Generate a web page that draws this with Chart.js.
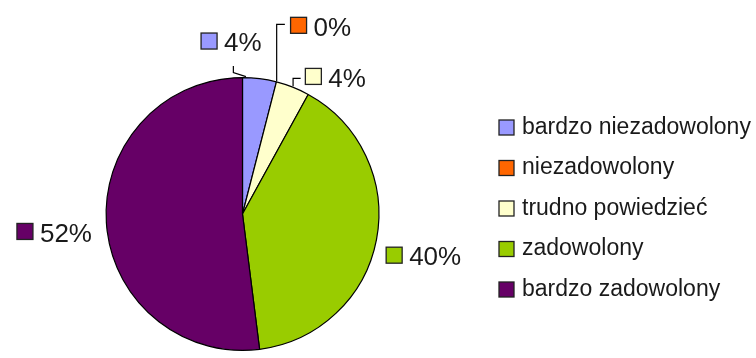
<!DOCTYPE html>
<html lang="pl">
<head>
    <meta charset="UTF-8">
    <title>Zadowolenie</title>
    <script src="https://cdn.jsdelivr.net/npm/chart.js"></script>
    <style>
        body {
            margin: 0;
            background-color: #FFFFFF;
        }
        #wrap {
            width: 756px;
            height: 358px;
        }
    </style>
</head>
<body>
<div id="wrap">
    <canvas id="pieChart" width="756" height="358"></canvas>
</div>
<script>
    // dane
    const kategorie = ['bardzo niezadowolony', 'niezadowolony', 'trudno powiedzieć', 'zadowolony', 'bardzo zadowolony'];
    const procenty = [4, 0, 4, 40, 52];
    const kolory = ['#9999FF', '#FF6600', '#FFFFCC', '#99CC00', '#660066'];

    // przesunięcia etykiet (jak ręcznie poprzesuwane w Excelu)
    const przesuniecia = [[-34, 11], [33, -9], [26, 35], [2, 10], [-6, 9]];
    // linie odniesienia: punkt startu względem środka etykiety, miejsce na łuku, rodzaj łamania
    const linie = [
        { od: [2, 22], ulamek: 0.1, tryb: 'v' },
        { od: [-36, -4], ulamek: 0.5, tryb: 'h' },
        { od: [-35, -1], ulamek: 0.5, tryb: 'h' },
        null,
        null
    ];

    const FONT = '"Liberation Sans", Arial, sans-serif';

    const etykietyPlugin = {
        id: 'etykiety',
        afterDatasetsDraw(chart) {
            const ctx = chart.ctx;
            const meta = chart.getDatasetMeta(0);
            ctx.save();
            meta.data.forEach((arc, i) => {
                const p = arc.getProps(['x', 'y', 'startAngle', 'endAngle', 'outerRadius'], true);
                const mid = (p.startAngle + p.endAngle) / 2;
                const d = p.outerRadius + 46;
                const cx = p.x + Math.cos(mid) * d + przesuniecia[i][0];
                const cy = p.y + Math.sin(mid) * d + przesuniecia[i][1];

                // linia odniesienia
                const l = linie[i];
                if (l) {
                    const a = p.startAngle + (p.endAngle - p.startAngle) * l.ulamek;
                    const ex = p.x + Math.cos(a) * (p.outerRadius + 1);
                    const ey = p.y + Math.sin(a) * (p.outerRadius + 1);
                    const sx = cx + l.od[0];
                    const sy = cy + l.od[1];
                    ctx.beginPath();
                    ctx.strokeStyle = '#000000';
                    ctx.lineWidth = 1.2;
                    ctx.moveTo(sx, sy);
                    if (l.tryb === 'v') {
                        ctx.lineTo(sx, ey - 4);
                    } else {
                        ctx.lineTo(ex, sy);
                    }
                    ctx.lineTo(ex, ey);
                    ctx.stroke();
                }

                // kwadracik + procent
                const tekst = procenty[i] + '%';
                ctx.font = '26px ' + FONT;
                const tw = ctx.measureText(tekst).width;
                const kw = 16, odstep = 7;
                const x0 = cx - (kw + odstep + tw) / 2;
                ctx.fillStyle = kolory[i];
                ctx.fillRect(x0, cy - 3 - kw / 2, kw, kw);
                ctx.strokeStyle = '#222222';
                ctx.lineWidth = 1.3;
                ctx.strokeRect(x0, cy - 3 - kw / 2, kw, kw);
                ctx.fillStyle = '#1A1A1A';
                ctx.textBaseline = 'middle';
                ctx.textAlign = 'left';
                ctx.fillText(tekst, x0 + kw + odstep, cy);
            });

            // legenda
            ctx.font = '23px ' + FONT;
            chart.data.labels.forEach((nazwa, i) => {
                const y = 127.5 + i * 40.5;
                ctx.fillStyle = kolory[i];
                ctx.fillRect(499, y - 7.5, 15, 15);
                ctx.strokeStyle = '#222222';
                ctx.lineWidth = 1.3;
                ctx.strokeRect(499, y - 7.5, 15, 15);
                ctx.fillStyle = '#1A1A1A';
                ctx.textBaseline = 'middle';
                ctx.fillText(nazwa, 522, y);
            });
            ctx.restore();
        }
    };

    const ctx = document.getElementById('pieChart').getContext('2d');
    const wykres = new Chart(ctx, {
        type: 'pie',
        data: {
            labels: kategorie,
            datasets: [{
                data: procenty,
                backgroundColor: kolory,
                borderColor: '#000000',
                borderWidth: 1.2
            }]
        },
        options: {
            responsive: false,
            animation: false,
            layout: {
                padding: { left: 105, right: 376, top: 77, bottom: 7 }
            },
            plugins: {
                legend: { display: false },
                tooltip: { enabled: false }
            }
        },
        plugins: [etykietyPlugin]
    });
</script>
</body>
</html>
